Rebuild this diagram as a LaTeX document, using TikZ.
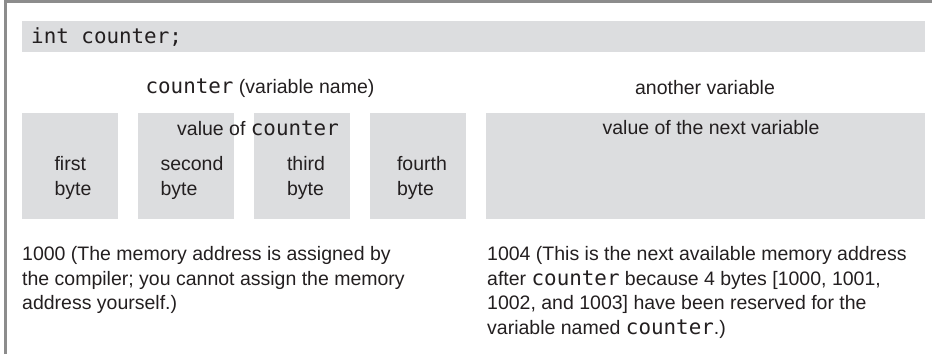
\documentclass[tikz,border=0pt]{standalone}
\usepackage{fontspec}
\setmainfont{Liberation Sans}
\newfontfamily\codefont{DejaVu Sans Mono}[Scale=1.07]
\definecolor{cellgray}{HTML}{DCDDDF}
\definecolor{rulegray}{HTML}{8C8C8C}
\definecolor{ink}{HTML}{231F20}
\newcommand{\cd}[1]{{\codefont #1}}
\begin{document}
\begin{tikzpicture}[x=1pt,y=-1pt,
  cell/.style={fill=cellgray,draw=none},
  lbl/.style={text=ink,inner sep=0pt,font=\fontsize{19.5}{24.5}\selectfont},
  note/.style={lbl,align=left,anchor=north west},
  bytelbl/.style={lbl,align=left,font=\fontsize{19.5}{25.5}\selectfont}]
  \useasboundingbox (0,0) rectangle (932,354);
  % frame: top and left rules
  \draw[rulegray,line width=2.2pt] (5.5,354) -- (5.5,1.5) -- (932,1.5);
  % declaration bar
  \path[cell] (22,21) rectangle (925,52);
  \node[lbl,anchor=base west] (decl) at (31,43) {\cd{int counter;}};
  % headings
  \node[lbl] (name) at (260,88) {\cd{counter} (variable name)};
  \node[lbl] (other) at (705,88) {another variable};
  % four bytes of counter
  \path[cell] (22,113) rectangle (118,219);
  \path[cell] (138,113) rectangle (234,219);
  \path[cell] (254,113) rectangle (350,219);
  \path[cell] (370,113) rectangle (466,219);
  % next variable
  \path[cell] (486,113) rectangle (925,219);
  \node[lbl] (val) at (258,128) {value of \cd{counter}};
  \node[lbl] (nextval) at (711,128) {value of the next variable};
  \node[bytelbl] (b1) at (73,178) {first\\byte};
  \node[bytelbl] (b2) at (192,178) {second\\byte};
  \node[bytelbl] (b3) at (306,178) {third\\byte};
  \node[bytelbl] (b4) at (422,178) {fourth\\byte};
  % addresses
  \node[note] (a1) at (22,246.5) {1000 (The memory address is assigned by\\the compiler; you cannot assign the memory\\address yourself.)};
  \node[note] (a2) at (487,246.5) {1004 (This is the next available memory address\\after \cd{counter} because 4 bytes [1000, 1001,\\1002, and 1003] have been reserved for the\\variable named \cd{counter}.)};
\end{tikzpicture}
\end{document}
